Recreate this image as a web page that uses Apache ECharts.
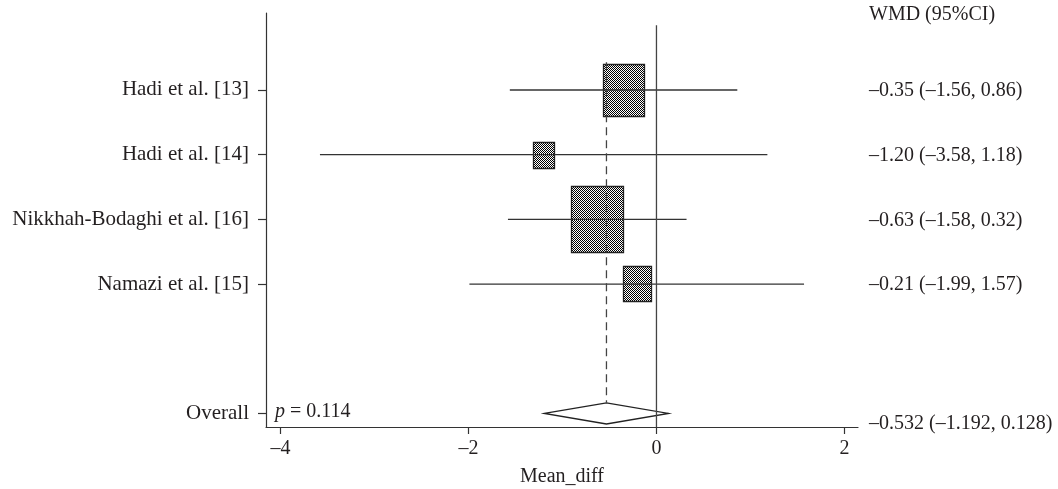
<!DOCTYPE html>
<html>
<head>
<meta charset="utf-8">
<script src="https://cdn.jsdelivr.net/npm/echarts@6/dist/echarts.min.js"></script>
<style>
html,body{margin:0;padding:0;background:#fff;}
#chart{width:1058px;height:489px;}
</style>
</head>
<body>
<div id="chart"></div>
<script>
// ---- data ----
const studies = ['Hadi et al. [13]', 'Hadi et al. [14]', 'Nikkhah-Bodaghi et al. [16]', 'Namazi et al. [15]'];
const means = [-0.35, -1.20, -0.63, -0.21];
const lowers = [-1.56, -3.58, -1.58, -1.99];
const uppers = [0.86, 1.18, 0.32, 1.57];
const weights = [29.9, 7.7, 48.6, 13.8];
const overallLabel = 'Overall';
const overallMean = -0.532;
const overallLower = -1.192;
const overallUpper = 0.128;
const pValue = '0.114';
const xTicks = [-4, -2, 0, 2];
const xName = 'Mean_diff';
const colHeader = 'WMD (95%CI)';

// ---- helpers ----
const FONT = "'Liberation Serif', 'DejaVu Serif', serif";
const dash = s => s.replace(/-/g, '\u2013');
const fmt = (v, d) => dash(v.toFixed(d));

const overallRow = studies.length + 2;
const studyRows = studies.map((_, i) => i + 1);
const yLabelMap = {};
studies.forEach((s, i) => { yLabelMap[studyRows[i]] = s; });
yLabelMap[overallRow] = overallLabel;

// checker pattern
const pc = document.createElement('canvas');
pc.width = 2; pc.height = 2;
const pctx = pc.getContext('2d');
pctx.fillStyle = '#fff'; pctx.fillRect(0, 0, 2, 2);
pctx.fillStyle = '#000'; pctx.fillRect(0, 0, 1, 1); pctx.fillRect(1, 1, 1, 1);
const pattern = { image: pc, repeat: 'repeat' };

const studyData = studies.map((s, i) => [studyRows[i], means[i], lowers[i], uppers[i], weights[i]]);
const textRows = studies.map((s, i) => [studyRows[i], fmt(means[i], 2) + ' (' + fmt(lowers[i], 2) + ', ' + fmt(uppers[i], 2) + ')'])
  .concat([[overallRow, fmt(overallMean, 3) + ' (' + fmt(overallLower, 3) + ', ' + fmt(overallUpper, 3) + ')']]);

const chart = echarts.init(document.getElementById('chart'), null, { renderer: 'canvas' });
const option = {
  animation: false,
  backgroundColor: '#fff',
  textStyle: { fontFamily: FONT },
  grid: { left: 266, right: 200, top: 13, bottom: 62, containLabel: false, outerBoundsMode: 'none' },
  xAxis: {
    type: 'value',
    min: -4.154, max: 2.144,
    splitLine: { show: false },
    axisLine: { onZero: false, lineStyle: { color: '#333', width: 1.2 } },
    axisTick: { customValues: xTicks, length: 7, lineStyle: { color: '#333', width: 1.2 } },
    axisLabel: { customValues: xTicks, formatter: v => dash(String(v)), color: '#231f20', fontSize: 20, fontFamily: FONT, margin: 12 },
    name: xName, nameLocation: 'middle', nameGap: 40,
    nameTextStyle: { color: '#231f20', fontSize: 20, fontFamily: FONT }
  },
  yAxis: {
    type: 'value',
    inverse: true,
    min: -0.19, max: 6.21,
    splitLine: { show: false },
    axisLine: { show: true, onZero: false, lineStyle: { color: '#333', width: 1.2 } },
    axisTick: { show: true, customValues: Object.keys(yLabelMap).map(Number), length: 8, lineStyle: { color: '#333', width: 1.2 } },
    axisLabel: { customValues: Object.keys(yLabelMap).map(Number), formatter: v => yLabelMap[v] || '', color: '#231f20', fontSize: 21, fontFamily: FONT, margin: 17 }
  },
  graphic: [
    { type: 'text', left: 869, top: 5, style: { text: colHeader, fill: '#231f20', font: '20px ' + FONT } },
    { type: 'text', left: 275, top: 402, style: {
      text: '{i|p} = ' + pValue,
      rich: { i: { fontStyle: 'italic', fontSize: 20, fontFamily: FONT, fill: '#231f20' } },
      fill: '#231f20', font: '20px ' + FONT } }
  ],
  series: [
    {
      type: 'line', data: [[0, 0], [0, 6.21]], symbol: 'none', z: 3,
      lineStyle: { color: '#444', width: 1.3 }, silent: true
    },
    {
      type: 'custom', z: 2,
      data: studyData,
      encode: { x: [1, 2, 3], y: 0 },
      renderItem: (params, api) => {
        const row = api.value(0), m = api.value(1), lo = api.value(2), hi = api.value(3), w = api.value(4);
        const c = api.coord([m, row]);
        const l = api.coord([lo, row]);
        const h = api.coord([hi, row]);
        const wd = 7.46 * Math.sqrt(w);
        const ht = wd * 1.27;
        return {
          type: 'group',
          children: [
            { type: 'rect', shape: { x: Math.round(c[0] - wd / 2) + 0.5, y: Math.round(c[1] - ht / 2) + 0.5, width: Math.round(wd), height: Math.round(ht) },
              style: { fill: pattern, stroke: '#222', lineWidth: 1.3 } },
            { type: 'line', shape: { x1: l[0], y1: c[1], x2: h[0], y2: c[1] },
              style: { stroke: '#333', lineWidth: 1.3 } }
          ]
        };
      }
    },
    {
      type: 'line', data: [[overallMean, 0.57], [overallMean, overallRow - 0.165]], symbol: 'none', z: 4,
      lineStyle: { color: '#444', width: 1.3, type: [8, 5] }, silent: true
    },
    {
      type: 'custom', z: 3,
      data: [[overallRow, overallMean, overallLower, overallUpper]],
      encode: { x: [1, 2, 3], y: 0 },
      renderItem: (params, api) => {
        const row = api.value(0);
        const c = api.coord([api.value(1), row]);
        const l = api.coord([api.value(2), row]);
        const h = api.coord([api.value(3), row]);
        const hh = 10.6;
        return {
          type: 'polygon',
          shape: { points: [[l[0], c[1]], [c[0], c[1] - hh], [h[0], c[1]], [c[0], c[1] + hh]] },
          style: { fill: '#fff', stroke: '#222', lineWidth: 1.3 }
        };
      }
    },
    {
      type: 'custom', z: 5, clip: false,
      data: textRows.map(r => [r[0]]),
      encode: { y: 0 },
      renderItem: (params, api) => {
        const row = api.value(0);
        const cs = params.coordSys;
        const txt = textRows[params.dataIndex][1];
        const isOverall = row === overallRow;
        const y = isOverall ? cs.y + cs.height - 3 : api.coord([0, row])[1] + 1;
        return {
          type: 'text',
          x: cs.x + cs.width + 11, y: y,
          style: { text: txt, fill: '#231f20', font: '20px ' + FONT, verticalAlign: 'middle', align: 'left' }
        };
      }
    }
  ]
};
chart.setOption(option);
</script>
</body>
</html>
